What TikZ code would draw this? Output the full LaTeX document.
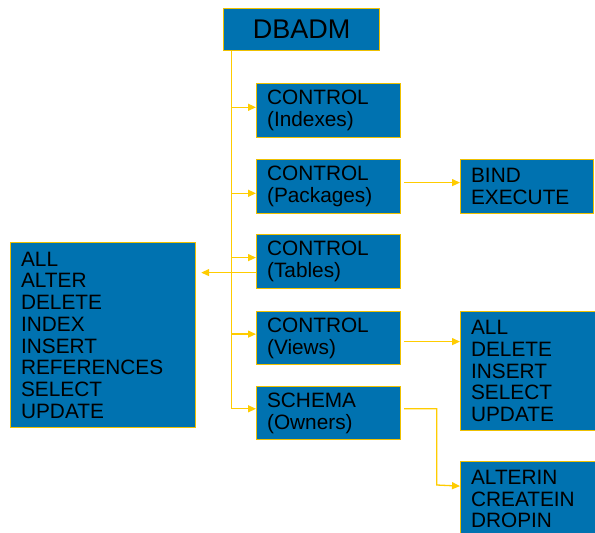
\documentclass[tikz,border=0pt]{standalone}
\usepackage{fontspec}
\setmainfont{Liberation Sans}
\usetikzlibrary{arrows.meta}
\definecolor{boxblue}{RGB}{0,114,176}
\definecolor{boxrim}{RGB}{238,192,0}
\definecolor{linkgold}{RGB}{255,204,0}

\begin{document}
\begin{tikzpicture}[x=1pt,y=-1pt,
	privbox/.style={draw=boxrim, fill=boxblue, line width=1.2pt, anchor=north west,
		align=left, inner xsep=10.5pt, inner ysep=0pt, font=\fontsize{20.8}{21.7}\selectfont},
	link/.style={linkgold, line width=1.3pt},
	linkarr/.style={link, -{Triangle[length=8pt,width=7pt]}}]
			\useasboundingbox (0,0) rectangle (595,533);
			
			\node [privbox, align=center, minimum width=156, minimum height=42,
				font=\fontsize{27}{30}\selectfont] (dbadm) at (223,8) {DBADM};
			
			\node [privbox, text width=123, minimum height=54] (idx) at (256,83) {CONTROL\\(Indexes)};
			\node [privbox, text width=123, minimum height=54] (pkg) at (256,159) {CONTROL\\(Packages)};
			\node [privbox, text width=123, minimum height=54] (tab) at (256,234) {CONTROL\\(Tables)};
			\node [privbox, text width=123, minimum height=53] (vw) at (256,311) {CONTROL\\(Views)};
			\node [privbox, text width=123, minimum height=53] (sch) at (256,386) {SCHEMA\\(Owners)};
			
			\node [privbox, text width=164, minimum height=185] (tabpriv) at (10,242)
				{ALL\\ALTER\\DELETE\\INDEX\\INSERT\\REFERENCES\\SELECT\\UPDATE};
			\node [privbox, text width=112, minimum height=54] (pkgpriv) at (460,159) {BIND\\EXECUTE};
			\node [privbox, text width=115, minimum height=119] (vwpriv) at (460,311)
				{ALL\\DELETE\\INSERT\\SELECT\\UPDATE};
			\node [privbox, text width=125, minimum height=75] (schpriv) at (460,461)
				{ALTERIN\\CREATEIN\\DROPIN};
			
			% trunk from DBADM
			\coordinate (trunk) at ([xshift=8.7pt]dbadm.south west);
			\coordinate (idxin) at ([yshift=3.3pt]idx.west);
			\coordinate (pkgin) at ([yshift=-6.7pt]pkg.west);
			\coordinate (tabin) at ([yshift=4pt]tab.west);
			\coordinate (vwin) at ([yshift=4pt]vw.west);
			\coordinate (schin) at ([yshift=4.3pt]sch.west);
			\draw [link] (trunk) -- (trunk |- schin);
			\foreach \b in {idxin,pkgin,tabin,vwin,schin}
				\draw [linkarr] (trunk |- \b) -- (\b);
			
			% privileges
			\draw [linkarr, shorten >=5pt] ([yshift=-11pt]tab.west) -- ([yshift=-11pt]tab.west -| tabpriv.east);
			\draw [linkarr, shorten <=3pt] ([yshift=4pt]pkg.east) -- ([yshift=4pt]pkg.east -| pkgpriv.west);
			\draw [linkarr, shorten <=3pt] ([yshift=-3.5pt]vw.east) -- ([yshift=-3.5pt]vw.east -| vwpriv.west);
			\draw [linkarr, shorten <=3pt] ([yshift=4.3pt]sch.east) -| (436.7,485) -- ([yshift=13pt]schpriv.west);
			
			\end{tikzpicture}
\end{document}
